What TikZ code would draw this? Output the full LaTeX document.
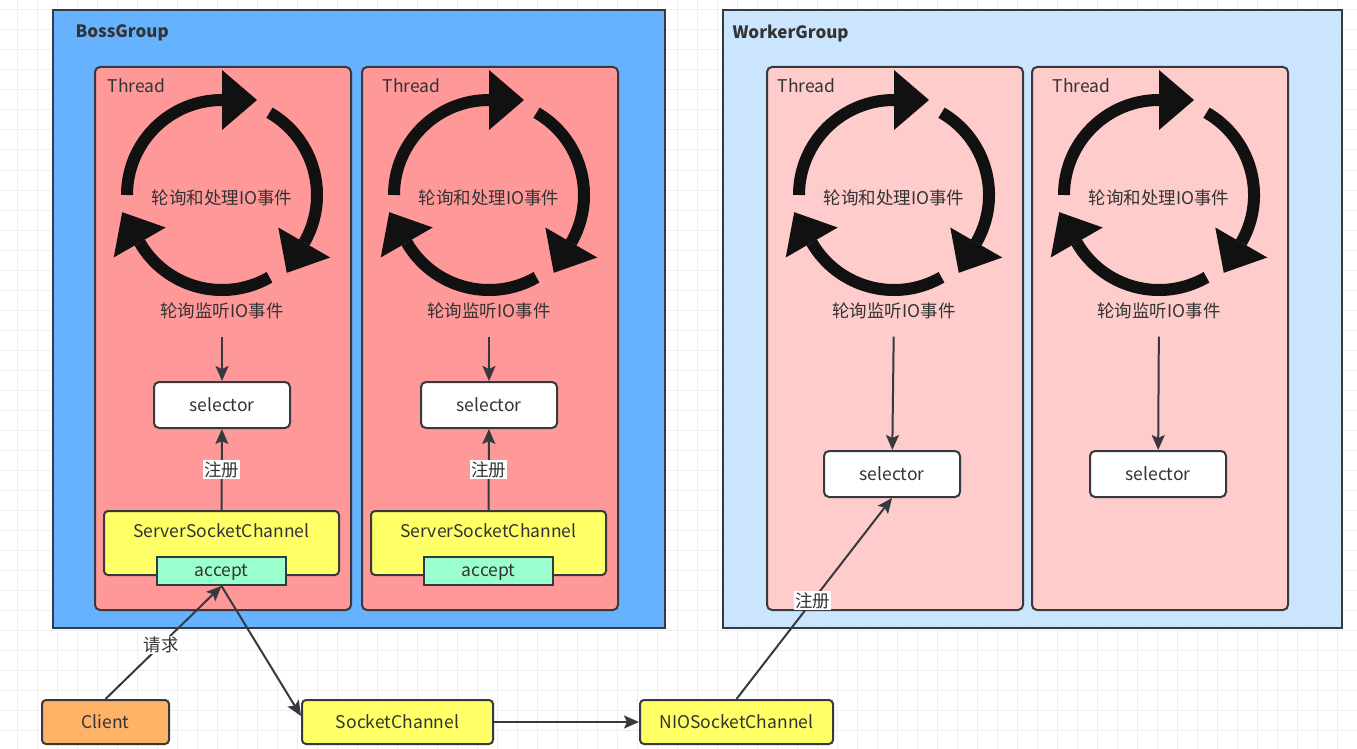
\documentclass[tikz,border=0pt]{standalone}
\usepackage{fontspec}
\setmainfont{Noto Sans CJK SC}
\usepackage{tikz}
\usetikzlibrary{arrows.meta, positioning, calc}
\definecolor{bossblue}{HTML}{66B2FF}
\definecolor{workerblue}{HTML}{CCE5FF}
\definecolor{threadred}{HTML}{FF9999}
\definecolor{threadpink}{HTML}{FFCCCC}
\definecolor{chanyellow}{HTML}{FFFF66}
\definecolor{acceptmint}{HTML}{99FFCC}
\definecolor{clientorange}{HTML}{FFB366}
\definecolor{edgegray}{HTML}{36393D}
\definecolor{txtgray}{HTML}{333333}
\definecolor{gridgray}{HTML}{EFEFEF}
\definecolor{loopblack}{HTML}{111111}

\tikzset{
    group/.style={draw=edgegray, line width=2pt, anchor=north west, inner sep=0pt,
        minimum height=618pt},
    thread/.style={draw=edgegray, line width=2pt, rounded corners=5pt, anchor=north west,
        inner sep=0pt, minimum width=256pt, minimum height=543pt},
    sel/.style={draw=edgegray, fill=white, line width=2pt, rounded corners=5pt,
        minimum width=136pt, minimum height=46pt},
    chan/.style={draw=edgegray, fill=chanyellow, line width=2pt, rounded corners=4pt,
        minimum height=44pt},
    conn/.style={draw=edgegray, line width=2pt, -{Stealth[length=15pt,width=13pt,inset=3pt]}},
    tag/.style={fill=white, inner sep=1pt},
    loopline/.style={draw=loopblack, line width=12pt},
}

\begin{document}
\begin{tikzpicture}[x=1pt, y=1pt, font=\fontsize{17.5}{20}\selectfont, text=txtgray]
\useasboundingbox (0,0) rectangle (1357,-749);

% background grid
\fill[white] (0,0) rectangle (1357,-749);
\begin{scope}
    \clip (0,0) rectangle (1357,-749);
    \draw[gridgray, line width=1pt, shift={(17,-10)}] (-40,-780) grid[step=20] (1360,20);
\end{scope}

% groups
\node[group, fill=bossblue, minimum width=612pt] (boss) at (52,-9) {};
\node[group, fill=workerblue, minimum width=619pt] (worker) at (722,-9) {};
\node[anchor=west, font=\fontsize{17}{20}\selectfont\bfseries] (bosstitle) at (72,-33) {BossGroup};
\node[anchor=west, font=\fontsize{17}{20}\selectfont\bfseries] (workertitle) at (729,-33) {WorkerGroup};

% threads
\foreach \n/\x/\c/\t in {bthreadA/94/threadred/10, bthreadB/361/threadred/18,
                         wthreadA/766/threadpink/8, wthreadB/1031/threadpink/18} {
    \node[thread, fill=\c] (\n) at (\x,-66) {};
    \node[anchor=west] (\n title) at (\x+\t,-86) {Thread};
}

% event loops
\foreach \n/\x in {A/222, B/489, C/894, D/1159} {
    \coordinate (loop\n) at (\x,-195);
    \foreach \s/\e in {180/90, 60/-30, -60/-150} {
        \draw[loopline] ($(loop\n)+(\s:95)$) arc[start angle=\s, end angle=\e, radius=95];
        \fill[loopblack] ($(loop\n)+(\e:65)$) -- ($(loop\n)+(\e:125)$)
            -- ($(loop\n)+(\e:95)+(\e-90:35)$) -- cycle;
    }
    \node (work\n) at (\x,-198) {轮询和处理IO事件};
    \node (poll\n) at (\x,-311) {轮询监听IO事件};
}

% selectors
\node[sel] (bselA) at (222,-405) {selector};
\node[sel] (bselB) at (489,-405) {selector};
\node[sel] (wselA) at (892,-474) {selector};
\node[sel] (wselB) at (1158,-474) {selector};

% server channels
\foreach \n/\x in {A/221.5, B/488.5} {
    \node[chan, minimum width=235pt, minimum height=64pt] (ssc\n) at (\x,-543) {};
    \node[below=10pt of ssc\n.north] (ssc\n text) {ServerSocketChannel};
    \node[draw=edgegray, fill=acceptmint, line width=2pt, minimum width=129pt,
        minimum height=28pt, inner sep=0pt, text depth=2pt] (accept\n) at (\x,-571) {accept};
}

% bottom row
\node[chan, fill=clientorange, minimum width=127pt] (client) at (105.5,-722) {Client};
\node[chan, minimum width=191pt] (sockch) at (397.5,-722) {SocketChannel};
\node[chan, minimum width=193pt] (niosock) at (736.5,-722) {NIOSocketChannel};

% connectors
\draw[conn, shorten <=14pt] (pollA) -- (bselA);
\draw[conn, shorten <=14pt] (pollB) -- (bselB);
\draw[conn, shorten <=14pt] (pollC) -- (wselA);
\draw[conn, shorten <=14pt] (pollD) -- (wselB);
\draw[conn] (sscA) -- node[tag] {注册} (bselA);
\draw[conn] (sscB) -- node[tag] {注册} (bselB);
\draw[conn] (client.north) -- node[tag, pos=0.48] {请求} (acceptA.south);
\draw[conn] (acceptA.south) -- ([yshift=6pt]sockch.west);
\draw[conn] (sockch) -- (niosock);
\draw[conn] (niosock.north) -- node[tag, pos=0.49] {注册} (wselA.south);
\end{tikzpicture}
\end{document}
